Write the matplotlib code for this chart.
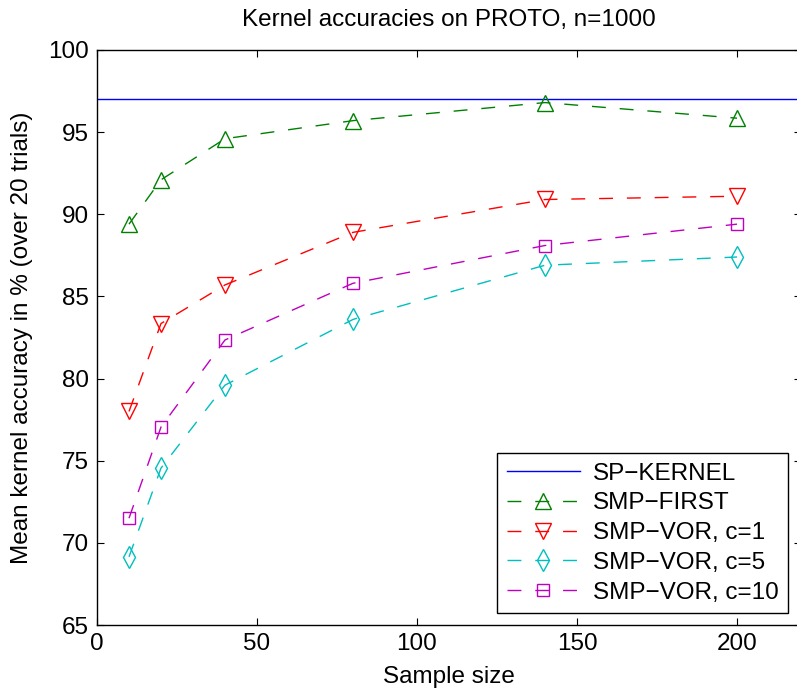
import numpy as np
import matplotlib
matplotlib.use("Agg")
import matplotlib.pyplot as plt

plt.rcParams['font.family'] = ['Liberation Sans', 'DejaVu Sans']

# sample sizes and mean accuracies (%)
sample_size = [10, 20, 40, 80, 140, 200]
sp_kernel = 97.0
smp_first = [89.4, 92.1, 94.6, 95.7, 96.8, 95.85]
smp_vor_c1 = [78.0, 83.35, 85.7, 88.9, 90.9, 91.1]
smp_vor_c5 = [69.15, 74.55, 79.6, 83.6, 86.9, 87.4]
smp_vor_c10 = [71.5, 77.05, 82.35, 85.8, 88.1, 89.4]

fs = 17.5

fig = plt.figure(figsize=(7.97, 6.91), dpi=100)
ax = fig.add_axes([97 / 797, 66 / 691, 704 / 797, 575 / 691])

dash = (10, 10)
ax.axhline(sp_kernel, color=(0, 0, 1), lw=1.0, label='SP\u2212KERNEL')
ax.plot(sample_size, smp_first, color=(0, 0.5, 0), lw=1.0, dashes=dash,
        marker='^', ms=12, mfc='none', mew=1.0, label='SMP\u2212FIRST')
ax.plot(sample_size, smp_vor_c1, color=(1, 0, 0), lw=1.0, dashes=dash,
        marker='v', ms=12, mfc='none', mew=1.0, label='SMP\u2212VOR, c=1')
ax.plot(sample_size, smp_vor_c5, color=(0, 0.75, 0.75), lw=1.0, dashes=dash,
        marker='d', ms=11, mfc='none', mew=1.0, label='SMP\u2212VOR, c=5')
ax.plot(sample_size, smp_vor_c10, color=(0.75, 0, 0.75), lw=1.0, dashes=dash,
        marker='s', ms=9, mfc='none', mew=1.0, label='SMP\u2212VOR, c=10')

ax.set_xlim(0, 220)
ax.set_ylim(65, 100)
ax.set_xticks([0, 50, 100, 150, 200])
ax.set_yticks(np.arange(65, 101, 5))
ax.tick_params(direction='in', length=5, width=0.8, labelsize=fs,
               top=True, right=True, pad=6)
for s in ax.spines.values():
    s.set_linewidth(1.0)

ax.set_title('Kernel accuracies on PROTO, n=1000', fontsize=fs, pad=17)
ax.set_xlabel('Sample size', fontsize=fs, labelpad=8)
ax.set_ylabel('Mean kernel accuracy in % (over 20 trials)', fontsize=fs, labelpad=11)

leg = ax.legend(loc='lower right', bbox_to_anchor=(788 / 797, 78 / 691),
                bbox_transform=fig.transFigure, fontsize=fs, frameon=True,
                fancybox=False, edgecolor='black', framealpha=1,
                handlelength=3.0, borderpad=0.38, labelspacing=0.32,
                handletextpad=0.55, borderaxespad=0)
leg.get_frame().set_linewidth(1.0)

fig.savefig('out.png', dpi=100)
